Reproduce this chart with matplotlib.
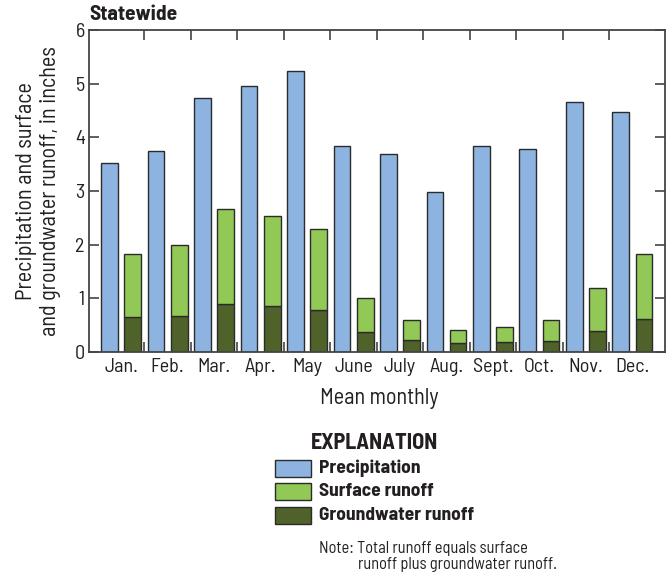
import matplotlib
matplotlib.use('Agg')
from matplotlib import pyplot as plt
from matplotlib.patches import Rectangle
import numpy as np

plt.rcParams['font.family'] = ['Barlow Semi Condensed', 'DejaVu Sans']

# mean monthly values, inches
months = ['Jan.', 'Feb.', 'Mar.', 'Apr.', 'May', 'June', 'July', 'Aug.', 'Sept.', 'Oct.', 'Nov.', 'Dec.']
precipitation = [3.52, 3.74, 4.73, 4.95, 5.24, 3.83, 3.69, 2.98, 3.83, 3.79, 4.65, 4.48]
groundwater = [0.65, 0.68, 0.89, 0.86, 0.79, 0.37, 0.23, 0.17, 0.19, 0.20, 0.40, 0.62]
surface = [1.18, 1.32, 1.77, 1.68, 1.51, 0.63, 0.36, 0.24, 0.28, 0.40, 0.80, 1.21]

legend_labels = ['Precipitation', 'Surface runoff', 'Groundwater runoff']

C_PRECIP = '#8db3e0'
C_SURF = '#92c855'
C_GW = '#4f6229'
EDGE = '#2b2b2b'
AX = '#444444'
TXT = '#231f20'

W, H = 672, 579
fig = plt.figure(figsize=(W/100, H/100), dpi=100, facecolor='w')
ax = fig.add_axes([89/W, 1-352/H, 576/W, 322/H])

x = np.arange(len(months))
w = 0.36
off = 0.25
ax.bar(x - off, precipitation, w, color=C_PRECIP, edgecolor=EDGE, linewidth=1.0, zorder=2)
ax.bar(x + off, groundwater, w, color=C_GW, edgecolor=EDGE, linewidth=1.0, zorder=2)
ax.bar(x + off, surface, w, bottom=groundwater, color=C_SURF, edgecolor=EDGE, linewidth=1.0, zorder=2)

ax.set_xlim(-0.69, 11.70)
ax.set_ylim(0, 6)
ax.set_xticks(x)
ax.set_xticklabels(months, fontsize=14.5, color=TXT)
ax.set_xticks(np.arange(0.5, 11.5, 1), minor=True)
ax.tick_params(axis='x', which='major', length=0, pad=4)
ax.tick_params(axis='x', which='minor', direction='in', length=7, width=1.2,
               color=AX, top=True, bottom=True)
ax.set_yticks(range(7))
ax.tick_params(axis='y', which='major', direction='in', length=7, width=1.2, color=AX,
               left=True, right=True, labelsize=14.5, labelcolor=TXT, pad=3)
for s in ax.spines.values():
    s.set_color(AX)
    s.set_linewidth(1.3)

ax.set_xlabel('Mean monthly', fontsize=16, color=TXT)
ax.xaxis.set_label_coords(0.504, -0.112)
ax.set_ylabel('Precipitation and surface\nand groundwater runoff, in inches',
              fontsize=16, color=TXT, linespacing=1.18)
ax.yaxis.set_label_coords(-0.048, 0.5)
fig.text(89/W, 1-14/H, 'Statewide', fontsize=15.5, fontweight='bold',
         ha='left', va='center', color=TXT)

# explanation block
fig.text(374/W, 1-443/H, 'EXPLANATION', fontsize=16, fontweight='bold',
         ha='center', va='center', color=TXT)
key_colors = [C_PRECIP, C_SURF, C_GW]
key_y = [468.5, 491.5, 515]
for lab, col, yc in zip(legend_labels, key_colors, key_y):
    fig.add_artist(Rectangle((275/W, 1-(yc+8.5)/H), 36/W, 17/H, transform=fig.transFigure,
                             facecolor=col, edgecolor=EDGE, linewidth=1.0))
    fig.text(319/W, 1-yc/H, lab, fontsize=14, fontweight='bold',
             ha='left', va='center', color=TXT)

fig.text(319/W, 1-548/H, 'Note: Total runoff equals surface', fontsize=11.8,
         ha='left', va='center', color=TXT)
fig.text(358/W, 1-565/H, 'runoff plus groundwater runoff.', fontsize=11.8,
         ha='left', va='center', color=TXT)

plt.savefig('out.png', dpi=100, facecolor='w')
